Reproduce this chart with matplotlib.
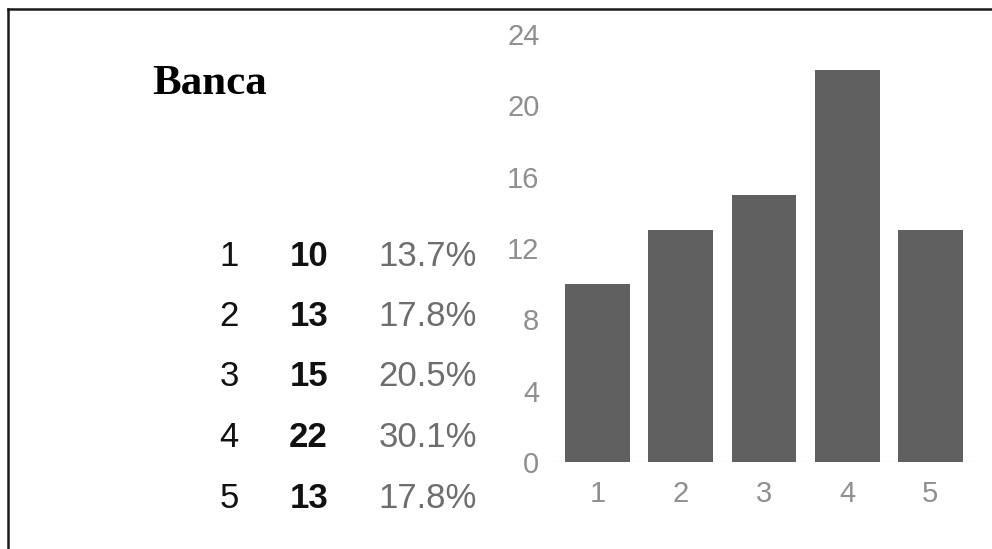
import matplotlib
matplotlib.use("Agg")
import matplotlib.pyplot as plt
from matplotlib.lines import Line2D

# Data
title = "Banca"
categories = ["1", "2", "3", "4", "5"]
counts = [10, 13, 15, 22, 13]
y_ticks = [0, 4, 8, 12, 16, 20, 24]

W, H = 992, 549
fig = plt.figure(figsize=(W / 100, H / 100), dpi=100)
fig.patch.set_facecolor("white")

def fx(px):
    return px / W

def fy(py):
    return 1 - py / H

# Border (top and left)
fig.add_artist(Line2D([fx(8), fx(W + 5)], [fy(9), fy(9)], color="#1a1a1a", lw=1.8, transform=fig.transFigure))
fig.add_artist(Line2D([fx(8), fx(8)], [fy(9), fy(H + 5)], color="#1a1a1a", lw=1.8, transform=fig.transFigure))

# Title
fig.text(fx(152), fy(84), title, family="Liberation Serif", fontweight="bold",
         fontsize=31, va="center", ha="left", color="black")

# Table
total = sum(counts)
row_y0, row_step = 256, 60.5
tfs = 25
for i, (c, n) in enumerate(zip(categories, counts)):
    y = fy(row_y0 + i * row_step)
    fig.text(fx(239), y, c, family="Liberation Sans", fontsize=tfs, ha="right", va="center", color="#111111")
    fig.text(fx(328), y, str(n), family="Liberation Sans", fontsize=tfs, fontweight="bold",
             ha="right", va="center", color="#111111")
    fig.text(fx(477), y, f"{n / total * 100:.1f}%", family="Liberation Sans", fontsize=tfs,
             ha="right", va="center", color="#6e6e6e")

# Bar chart
left, right, top, bottom = 552, 976, 34, 462
ax = fig.add_axes([fx(left), fy(bottom), fx(right - left), (bottom - top) / H])
x = list(range(len(categories)))
ax.bar(x, counts, width=0.78, color="#606060", zorder=2)
ax.set_xlim(-0.55, len(categories) - 0.45)
ax.set_ylim(0, 24)
ax.set_yticks(y_ticks)
ax.set_yticklabels([str(t) for t in y_ticks])
ax.set_xticks(x)
ax.set_xticklabels(categories)
for s in ax.spines.values():
    s.set_visible(False)
ax.axhline(0, color="#ececec", lw=1, zorder=1)
ax.tick_params(axis="both", length=0, labelsize=21, labelcolor="#8f8f8f")
ax.tick_params(axis="y", pad=9)
ax.tick_params(axis="x", pad=13)
for lab in ax.get_xticklabels() + ax.get_yticklabels():
    lab.set_family("Liberation Sans")

fig.savefig("out.png", dpi=100, facecolor="white")
